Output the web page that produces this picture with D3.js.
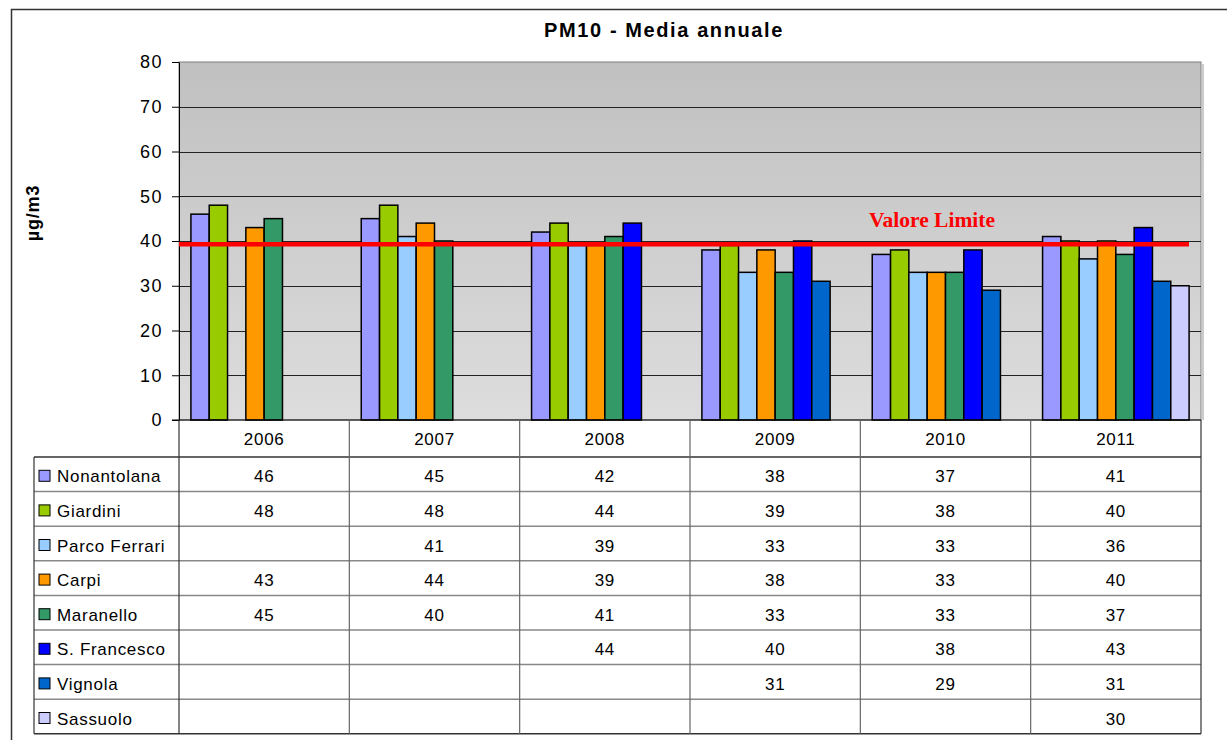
<!DOCTYPE html>
<html>
<head>
<meta charset="UTF-8">
<title>PM10 - Media annuale</title>
<style>
  body { margin: 0; background: #ffffff; font-family: 'Liberation Sans', Arial, sans-serif; }
  .axis--y path, .axis--y line { stroke: #000; }
  .axis--y text { font-size: 18px; fill: #000; letter-spacing: 1.5px; }
  .cell { font-size: 17px; letter-spacing: 0.7px; }
</style>
</head>
<body>
<script src="https://d3js.org/d3.v7.min.js"></script>
<script>
  // data
  const years = ['2006', '2007', '2008', '2009', '2010', '2011'];
  const stations = ['Nonantolana', 'Giardini', 'Parco Ferrari', 'Carpi', 'Maranello', 'S. Francesco', 'Vignola', 'Sassuolo'];
  const nonantolana  = [46, 45, 42, 38, 37, 41];
  const giardini     = [48, 48, 44, 39, 38, 40];
  const parcoFerrari = [null, 41, 39, 33, 33, 36];
  const carpi        = [43, 44, 39, 38, 33, 40];
  const maranello    = [45, 40, 41, 33, 33, 37];
  const sFrancesco   = [null, null, 44, 40, 38, 43];
  const vignola      = [null, null, null, 31, 29, 31];
  const sassuolo     = [null, null, null, null, null, 30];
  const yTicks = [0, 10, 20, 30, 40, 50, 60, 70, 80];
  const limitValue = 39.3;
  const limitLabel = 'Valore Limite';

  const seriesValues = [nonantolana, giardini, parcoFerrari, carpi, maranello, sFrancesco, vignola, sassuolo];
  const colors = ['#9999ff', '#99cc00', '#99ccff', '#ff9900', '#339966', '#0000ff', '#0066cc', '#ccccff'];

  const W = 1227, H = 740;
  const plot = { left: 179, top: 62, right: 1201, bottom: 420 };
  const tableLeft = 34, headerBottom = 457, rowH = 34.6;

  const svg = d3.select('body').append('svg')
      .attr('width', W)
      .attr('height', H);

  // outer frame (right/bottom edges fall outside the picture)
  svg.append('path')
      .attr('d', `M11.5,${H + 5} L11.5,9.5 L${W + 5},9.5`)
      .attr('fill', 'none')
      .attr('stroke', '#333')
      .attr('stroke-width', 1.5);

  // title
  svg.append('text')
      .attr('x', 664)
      .attr('y', 37)
      .attr('text-anchor', 'middle')
      .style('font-size', '20px')
      .style('font-weight', 'bold')
      .style('letter-spacing', '1.6px')
      .text('PM10 - Media annuale');

  // scales
  const x0 = d3.scaleBand().domain(years).range([plot.left, plot.right]).padding(0);
  const x1 = d3.scaleBand().domain(stations).range([0, x0.bandwidth()]).paddingInner(0).paddingOuter(0.65);
  const y = d3.scaleLinear().domain([0, 80]).range([plot.bottom, plot.top]);

  // plot background gradient
  const defs = svg.append('defs');
  const grad = defs.append('linearGradient')
      .attr('id', 'bg')
      .attr('x1', 0).attr('y1', 0).attr('x2', 0).attr('y2', 1);
  grad.append('stop').attr('offset', '0%').attr('stop-color', '#c0c0c0');
  grad.append('stop').attr('offset', '100%').attr('stop-color', '#dddddd');

  // shadow on the right
  svg.append('rect')
      .attr('x', plot.right + 1)
      .attr('y', plot.top + 2)
      .attr('width', 2)
      .attr('height', plot.bottom - plot.top - 2)
      .attr('fill', '#cccccc');

  svg.append('rect')
      .attr('x', plot.left)
      .attr('y', plot.top)
      .attr('width', plot.right - plot.left)
      .attr('height', plot.bottom - plot.top)
      .attr('fill', 'url(#bg)')
      .attr('stroke', '#808080')
      .attr('stroke-width', 1);

  // gridlines
  svg.append('g')
      .selectAll('line')
      .data(yTicks.filter(d => d > 0 && d < 80))
      .enter()
      .append('line')
      .attr('x1', plot.left)
      .attr('x2', plot.right)
      .attr('y1', d => Math.round(y(d)) + 0.5)
      .attr('y2', d => Math.round(y(d)) + 0.5)
      .attr('stroke', '#222')
      .attr('stroke-width', 1);

  // y axis
  svg.append('g')
      .attr('class', 'axis axis--y')
      .attr('transform', `translate(${plot.left},0)`)
      .call(d3.axisLeft(y).tickValues(yTicks).tickSize(7).tickPadding(9).tickSizeOuter(0));

  // y axis title
  svg.append('text')
      .attr('transform', 'translate(39,213) rotate(-90)')
      .attr('text-anchor', 'middle')
      .style('font-size', '18px')
      .style('font-weight', 'bold')
      .style('letter-spacing', '0.8px')
      .text('µg/m3');

  // bars
  const barData = [];
  stations.forEach((s, i) => {
      years.forEach((yr, j) => {
          const v = seriesValues[i][j];
          if (v != null) barData.push({ station: s, year: yr, value: v, color: colors[i] });
      });
  });

  svg.append('g')
      .selectAll('rect')
      .data(barData)
      .enter()
      .append('rect')
      .attr('x', d => x0(d.year) + x1(d.station))
      .attr('y', d => y(d.value))
      .attr('width', x1.bandwidth())
      .attr('height', d => y(0) - y(d.value))
      .attr('fill', d => d.color)
      .attr('stroke', '#000')
      .attr('stroke-width', 1.5);

  // limit line
  svg.append('line')
      .attr('x1', plot.left)
      .attr('x2', 1189)
      .attr('y1', y(limitValue))
      .attr('y2', y(limitValue))
      .attr('stroke', '#ff0000')
      .attr('stroke-width', 4.5);

  svg.append('text')
      .attr('x', 932)
      .attr('y', 227)
      .attr('text-anchor', 'middle')
      .style('font-family', "'Liberation Serif', 'Times New Roman', serif")
      .style('font-size', '21.5px')
      .style('font-weight', 'bold')
      .attr('fill', '#ff0000')
      .text(limitLabel);

  // x axis line at 0
  svg.append('line')
      .attr('x1', plot.left - 7)
      .attr('x2', plot.right)
      .attr('y1', plot.bottom)
      .attr('y2', plot.bottom)
      .attr('stroke', '#000')
      .attr('stroke-width', 1.2);

  // data table
  const table = svg.append('g');
  const tableBottom = headerBottom + rowH * stations.length;

  // horizontal row lines
  table.selectAll('.hline')
      .data(d3.range(stations.length + 1))
      .enter()
      .append('line')
      .attr('x1', tableLeft)
      .attr('x2', plot.right)
      .attr('y1', i => headerBottom + i * rowH)
      .attr('y2', i => headerBottom + i * rowH)
      .attr('stroke', i => (i === 0 || i === stations.length) ? '#333' : '#888')
      .attr('stroke-width', 1.5);

  // vertical column lines
  const colEdges = years.map(yr => x0(yr)).concat([plot.right]);
  table.selectAll('.vline')
      .data(colEdges)
      .enter()
      .append('line')
      .attr('x1', d => d)
      .attr('x2', d => d)
      .attr('y1', plot.bottom)
      .attr('y2', tableBottom)
      .attr('stroke', (d, i) => (i === 0 || i === colEdges.length - 1) ? '#333' : '#666')
      .attr('stroke-width', 1.2);

  table.append('line')
      .attr('x1', tableLeft)
      .attr('x2', tableLeft)
      .attr('y1', headerBottom)
      .attr('y2', tableBottom)
      .attr('stroke', '#333')
      .attr('stroke-width', 1.2);

  // year headers
  table.selectAll('.year')
      .data(years)
      .enter()
      .append('text')
      .attr('class', 'cell')
      .attr('x', d => x0(d) + x0.bandwidth() / 2)
      .attr('y', (plot.bottom + headerBottom) / 2 + 6)
      .attr('text-anchor', 'middle')
      .text(d => d);

  // legend keys and values
  stations.forEach((s, i) => {
      const cy = headerBottom + i * rowH + rowH / 2;
      table.append('rect')
          .attr('x', 39)
          .attr('y', cy - 4)
          .attr('width', 11)
          .attr('height', 11)
          .attr('fill', colors[i])
          .attr('stroke', '#000')
          .attr('stroke-width', 1);
      table.append('text')
          .attr('class', 'cell')
          .attr('x', 57)
          .attr('y', cy + 8)
          .text(s);
      table.selectAll(null)
          .data(seriesValues[i].map((v, j) => ({ v, yr: years[j] })).filter(d => d.v != null))
          .enter()
          .append('text')
          .attr('class', 'cell')
          .attr('x', d => x0(d.yr) + x0.bandwidth() / 2)
          .attr('y', cy + 8)
          .attr('text-anchor', 'middle')
          .text(d => d.v);
  });
</script>
</body>
</html>
